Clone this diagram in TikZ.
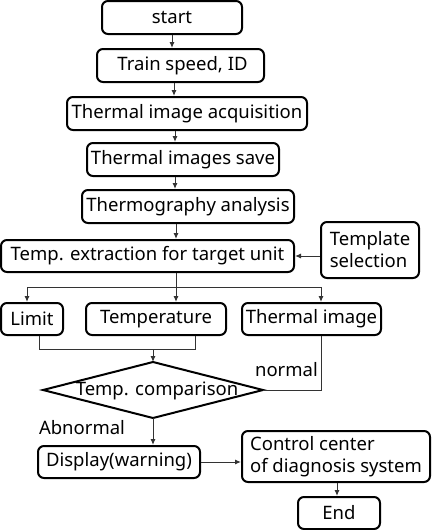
\documentclass[tikz,border=0pt]{standalone}
\usepackage{fontspec}
\setmainfont{Noto Sans}
\usetikzlibrary{arrows.meta}
\begin{document}
\begin{tikzpicture}[x=1pt,y=-1pt,
  box/.style={draw=black,line width=2pt,rounded corners=6pt,inner sep=0pt,align=left,
    font=\fontsize{18.5}{22}\selectfont},
  arr/.style={draw=black!80,line width=1pt,-{Latex[length=6pt,width=5pt]}},
  ln/.style={draw=black!80,line width=1pt},
  lbl/.style={inner sep=0pt,font=\fontsize{18.5}{22}\selectfont}]
\useasboundingbox (0,0) rectangle (433,530);
\node[box,minimum width=140pt,minimum height=33pt] (start) at (172,17.5) {start};
\node[box,minimum width=167pt,minimum height=33pt] (train) at (180.5,65.5) {\hspace{4pt}Train speed, ID};
\node[box,minimum width=240pt,minimum height=33pt] (acq) at (187,113.5) {Thermal image acquisition};
\node[box,minimum width=192pt,minimum height=33pt] (save) at (183,159.5) {Thermal images save};
\node[box,minimum width=212pt,minimum height=33pt] (thermo) at (188,206.5) {Thermography analysis};
\node[box,minimum width=293pt,minimum height=32pt] (extract) at (147.5,256) {Temp. extraction for target unit};
\node[box,minimum width=98pt,minimum height=56pt] (template) at (370,250) {Template\\selection};
\node[box,minimum width=62pt,minimum height=32pt] (limit) at (32,319) {Limit};
\node[box,minimum width=140pt,minimum height=32pt] (temp) at (156,319) {Temperature};
\node[box,minimum width=139pt,minimum height=32pt] (timg) at (311.5,319) {Thermal image};
\coordinate (dtop) at (153,362);
\coordinate (dleft) at (43,390);
\coordinate (dright) at (263,390);
\coordinate (dbot) at (153,418);
\draw[line width=2pt,line join=miter] (dtop) -- (dright) -- (dbot) -- (dleft) -- cycle;
\node[lbl] (cmp) at (157,391) {Temp. comparison};
\node[box,minimum width=162pt,minimum height=32pt] (display) at (119,462) {Display(warning)};
\node[box,minimum width=188pt,minimum height=51pt] (control) at (336,456.5) {Control center\\of diagnosis system};
\node[box,minimum width=82pt,minimum height=32pt] (end) at (339,513) {End};
\node[lbl,anchor=east] (normal) at (318,370) {normal};
\node[lbl] (abn) at (82,428) {Abnormal};
% connectors
\draw[arr] (start.south) -- (start.south |- train.north);
\draw[arr] (174,0 |- train.south) -- (174,0 |- acq.north);
\draw[arr] (175,0 |- acq.south) -- (175,0 |- save.north);
\draw[arr] (175,0 |- save.south) -- (175,0 |- thermo.north);
\draw[arr] (176,0 |- thermo.south) -- (176,0 |- extract.north);
\draw[arr] (template.west |- extract.east) -- (extract.east);
\coordinate (br) at (176,287);
\draw[ln] (176,0 |- extract.south) -- (br);
\draw[arr] (br) -| (27,0 |- limit.north);
\draw[arr] (br) -- (176,0 |- temp.north);
\draw[arr] (br) -| (321,0 |- timg.north);
\coordinate (mg) at (153,349);
\draw[ln] (39,0 |- limit.south) |- (mg);
\draw[ln] (195,0 |- temp.south) |- (mg);
\draw[arr] (mg) -- (dtop);
\draw[ln] (321,0 |- timg.south) |- (dright);
\draw[arr] (dbot) -- (dbot |- display.north);
\draw[arr] (display.east) -- (display.east -| control.west);
\draw[arr] (337,0 |- control.south) -- (337,0 |- end.north);
\end{tikzpicture}
\end{document}
